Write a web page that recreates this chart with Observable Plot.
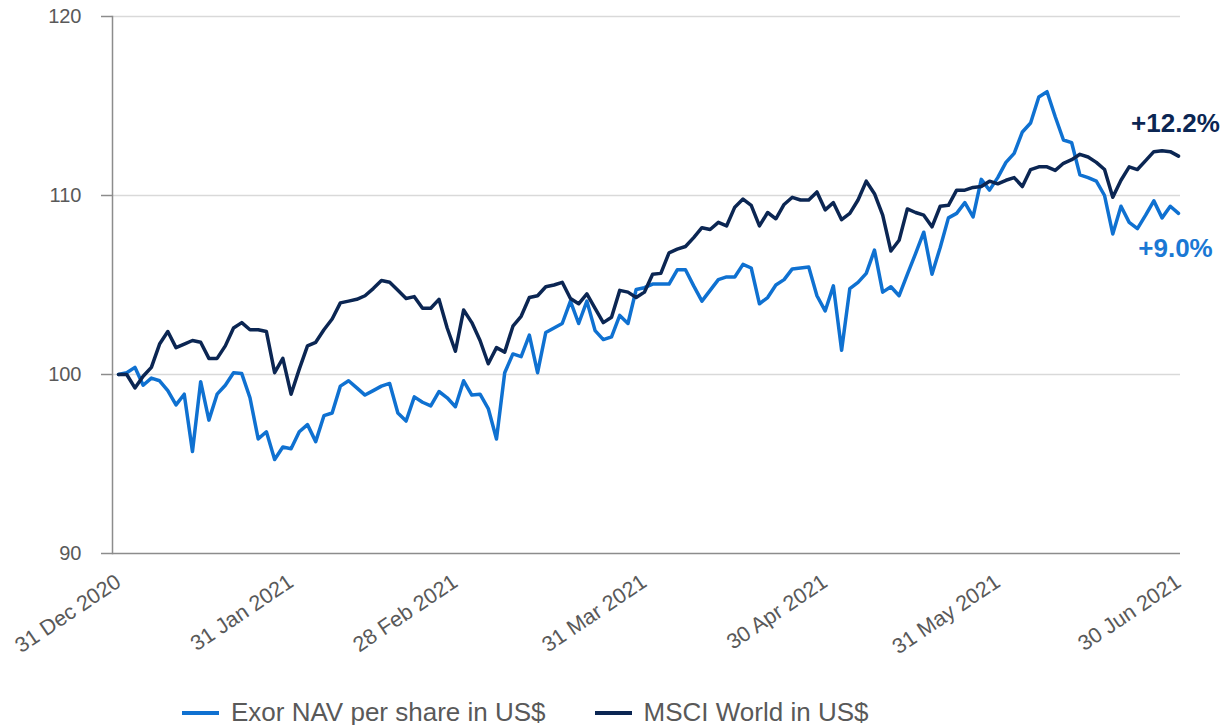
<!DOCTYPE html>
<html><head><meta charset="utf-8">
<script src="https://cdn.jsdelivr.net/npm/d3@7"></script>
<script src="https://cdn.jsdelivr.net/npm/@observablehq/plot@0.6"></script>
<style>
html,body{margin:0;padding:0;background:#fff;overflow:hidden;}
#legend{display:flex;align-items:center;height:25px;padding-left:182px;font-family:"Liberation Sans",Arial,sans-serif;font-size:26px;color:#595959;white-space:nowrap;overflow:visible;}
.item{display:flex;align-items:center;}
.sw{width:37px;height:4px;margin-right:12px;}
</style></head><body><div id="chart"></div><div id="legend"></div>
<script>
const seriesNames = ["Exor NAV per share in US$", "MSCI World in US$"];
const exorNav = [
 100.0,100.1,100.4,99.4,99.8,99.65,99.1,98.3,98.9,95.7,
 99.6,97.45,98.9,99.4,100.1,100.05,98.7,96.4,96.8,95.25,
 95.95,95.85,96.8,97.2,96.25,97.7,97.85,99.35,99.65,99.25,
 98.85,99.1,99.35,99.5,97.85,97.4,98.75,98.45,98.25,99.05,
 98.7,98.2,99.65,98.85,98.9,98.1,96.4,100.1,101.15,101.0,
 102.2,100.1,102.35,102.6,102.85,104.1,102.85,104.1,102.45,101.95,
 102.1,103.3,102.85,104.75,104.85,105.05,105.05,105.05,105.85,105.85,
 104.95,104.1,104.7,105.3,105.45,105.45,106.15,105.95,103.95,104.3,
 105.0,105.3,105.9,105.95,106.0,104.4,103.55,104.95,101.35,104.8,
 105.15,105.65,106.95,104.6,104.9,104.4,105.6,106.75,107.95,105.6,
 107.1,108.75,109.0,109.6,108.8,110.9,110.3,111.0,111.85,112.35,
 113.55,114.05,115.5,115.8,114.4,113.1,112.95,111.15,111.0,110.8,
 110.0,107.85,109.4,108.5,108.15,108.9,109.7,108.75,109.4,109.0
];
const msciWorld = [
 100.0,100.0,99.25,99.9,100.4,101.7,102.4,101.5,101.7,101.9,
 101.8,100.9,100.9,101.6,102.6,102.9,102.5,102.5,102.4,100.1,
 100.9,98.9,100.3,101.6,101.8,102.5,103.1,104.0,104.1,104.2,
 104.4,104.8,105.25,105.15,104.7,104.25,104.35,103.7,103.7,104.2,
 102.6,101.3,103.6,102.9,101.9,100.6,101.5,101.25,102.7,103.25,
 104.3,104.4,104.9,105.0,105.15,104.25,103.95,104.5,103.7,102.9,
 103.2,104.7,104.6,104.3,104.6,105.6,105.65,106.8,107.0,107.15,
 107.65,108.2,108.1,108.5,108.3,109.35,109.8,109.45,108.3,109.05,
 108.7,109.5,109.9,109.75,109.75,110.2,109.2,109.6,108.65,109.0,
 109.75,110.8,110.1,108.9,106.9,107.5,109.25,109.05,108.9,108.25,
 109.4,109.45,110.3,110.3,110.45,110.5,110.8,110.65,110.85,111.0,
 110.5,111.45,111.6,111.6,111.4,111.8,112.0,112.3,112.15,111.85,
 111.45,109.9,110.85,111.6,111.45,111.95,112.45,112.5,112.45,112.2
];
const endLabels = ["+9.0%", "+12.2%"];
const tickDates = ["2020-12-31","2021-01-29","2021-02-26","2021-03-31","2021-04-30","2021-05-31","2021-06-30"];
const tickLabels = ["31 Dec 2020","31 Jan 2021","28 Feb 2021","31 Mar 2021","30 Apr 2021","31 May 2021","30 Jun 2021"];
const yTicks = [90,100,110,120];
const colors = ["#0f71d1", "#0b2653"];

// business-day categories of the x axis
const fmt = d3.utcFormat("%Y-%m-%d");
const dates = d3.utcDays(new Date(Date.UTC(2020,11,31)), new Date(Date.UTC(2021,6,1)))
  .filter(d => d.getUTCDay() !== 0 && d.getUTCDay() !== 6).map(fmt);

const exorRows = dates.map((d,i) => ({date:d, value:exorNav[i]}));
const msciRows = dates.map((d,i) => ({date:d, value:msciWorld[i]}));
const lastIdx = dates.length - 1;

const chart = Plot.plot({
  width: 1228, height: 700,
  marginLeft: 112, marginRight: 48, marginTop: 16, marginBottom: 147,
  style: {fontFamily: '"Liberation Sans", Arial, sans-serif', background: "#fff", overflow: "visible"},
  x: {type: "point", domain: dates, padding: 0, round: false, insetLeft: 6, insetRight: 2},
  y: {domain: [90, 120]},
  marks: [
    Plot.ruleY(yTicks.filter(v => v > 90), {stroke: "#d9d9d9", strokeWidth: 1.5}),
    Plot.ruleY([90], {stroke: "#8c8c8c", strokeWidth: 1.5}),
    Plot.frame({anchor: "left", stroke: "#8c8c8c", strokeWidth: 1.5}),
    Plot.axisY({ticks: yTicks, tickSize: 11, tickPadding: 20, stroke: "#8c8c8c", strokeWidth: 1.5, fill: "#595959", fontSize: 20, label: null}),
    Plot.axisX({ticks: tickDates, tickFormat: d => tickLabels[tickDates.indexOf(d)], tickSize: 0, tickPadding: 26, tickRotate: -34, fill: "#595959", fontSize: 21.5, label: null}),
    Plot.line(exorRows, {x: "date", y: "value", stroke: colors[0], strokeWidth: 3.5, strokeLinejoin: "round"}),
    Plot.line(msciRows, {x: "date", y: "value", stroke: colors[1], strokeWidth: 3.5, strokeLinejoin: "round"}),
    Plot.text([exorRows[lastIdx]], {x: "date", y: "value", text: () => endLabels[0], dx: -3, dy: 35, fill: "#1a78d4", fontWeight: "bold", fontSize: 26}),
    Plot.text([msciRows[lastIdx]], {x: "date", y: "value", text: () => endLabels[1], dx: -3, dy: -32, fill: colors[1], fontWeight: "bold", fontSize: 26})
  ]
});
document.getElementById("chart").appendChild(chart);

const legend = document.getElementById("legend");
seriesNames.forEach((name, i) => {
  const item = document.createElement("div");
  item.className = "item";
  if (i > 0) item.style.marginLeft = "49px";
  const sw = document.createElement("div");
  sw.className = "sw";
  sw.style.background = colors[i];
  const t = document.createElement("span");
  t.textContent = name;
  item.appendChild(sw); item.appendChild(t);
  legend.appendChild(item);
});
</script></body></html>
